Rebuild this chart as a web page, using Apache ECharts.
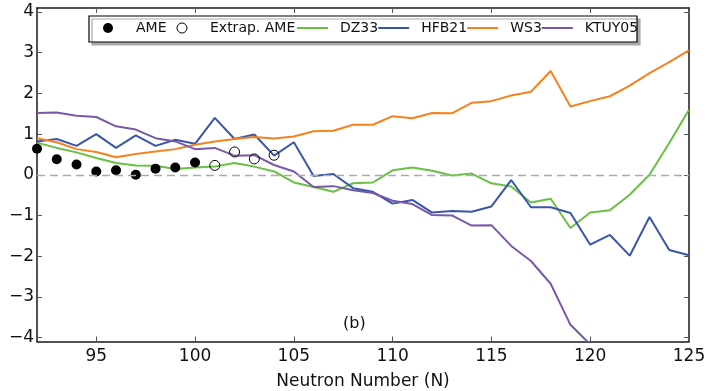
<!DOCTYPE html>
<html><head><meta charset="utf-8">
<script src="https://cdn.jsdelivr.net/npm/echarts@6/dist/echarts.min.js"></script>
<style>html,body{margin:0;padding:0;background:#fff}#c{width:709px;height:391px}</style>
</head><body><div id="c"></div>
<script>
var neutronN = [92,93,94,95,96,97,98,99,100,101,102,103,104,105,106,107,108,109,110,111,112,113,114,115,116,117,118,119,120,121,122,123,124,125];
var ameN = [92,93,94,95,96,97,98,99,100];
var ame = [0.64,0.38,0.25,0.08,0.11,0.00,0.15,0.18,0.30];
var extrapN = [101,102,103,104];
var extrap = [0.23,0.56,0.39,0.48];
var dz33 = [0.79,0.66,0.55,0.41,0.29,0.23,0.22,0.14,0.18,0.20,0.29,0.20,0.08,-0.19,-0.30,-0.42,-0.21,-0.19,0.11,0.18,0.10,-0.02,0.03,-0.21,-0.29,-0.68,-0.59,-1.31,-0.93,-0.87,-0.49,0.00,0.78,1.60];
var hfb21 = [0.82,0.88,0.71,1.00,0.66,0.97,0.71,0.86,0.76,1.40,0.88,0.99,0.47,0.80,-0.03,0.02,-0.33,-0.42,-0.71,-0.62,-0.93,-0.89,-0.91,-0.78,-0.13,-0.80,-0.80,-0.94,-1.72,-1.48,-1.99,-1.04,-1.85,-1.98];
var ws3 = [0.90,0.80,0.63,0.56,0.43,0.51,0.57,0.63,0.74,0.82,0.88,0.93,0.89,0.94,1.07,1.08,1.23,1.23,1.44,1.39,1.52,1.51,1.77,1.81,1.95,2.04,2.55,1.68,1.81,1.93,2.19,2.50,2.77,3.06];
var ktuy05 = [1.52,1.53,1.45,1.42,1.19,1.11,0.90,0.82,0.63,0.66,0.47,0.48,0.24,0.08,-0.30,-0.28,-0.38,-0.45,-0.64,-0.72,-0.99,-1.00,-1.25,-1.24,-1.75,-2.12,-2.68,-3.69,-4.17];
var xTicks = [95,100,105,110,115,120,125];
var yTicks = [-4,-3,-2,-1,0,1,2,3,4];
var xLabel = 'Neutron Number (N)';
var panelLabel = '(b)';

function pairs(xs, ys){ var o=[]; for(var i=0;i<ys.length;i++) o.push([xs[i], ys[i]]); return o; }

var FONT = 'DejaVu Sans';
var AX = '#1a1a1a';
var chart = echarts.init(document.getElementById('c'), null, {renderer:'canvas'});
function xAxisDef(pos, show){
  return {type:'value', position:pos, min:92, max:125,
    axisLine:{show:true, onZero:false, lineStyle:{color:AX, width:1.5}},
    axisTick:{show:true, inside:true, length:5, customValues:xTicks, lineStyle:{color:'#555', width:1}},
    axisLabel:{show:show, customValues:xTicks, fontFamily:FONT, fontSize:17, color:'#111', margin:7},
    splitLine:{show:false},
    name: show ? xLabel : '', nameLocation:'middle', nameGap:32,
    nameTextStyle:{fontFamily:FONT, fontSize:17, color:'#111'}};
}
function yAxisDef(pos, show){
  return {type:'value', position:pos, min:-4.1, max:4.1,
    axisLine:{show:true, onZero:false, lineStyle:{color:AX, width:1.5}},
    axisTick:{show:true, inside:true, length:5, customValues:yTicks, lineStyle:{color:'#555', width:1}},
    axisLabel:{show:show, customValues:yTicks, fontFamily:FONT, fontSize:17, color:'#111', margin:3,
      formatter:function(v){ return String(v).replace('-', '\u2212'); }},
    splitLine:{show:false}};
}
function lineSeries(name, data, color){
  return {name:name, type:'line', data:pairs(neutronN, data), showSymbol:false, symbol:'none',
    lineStyle:{color:color, width:2}, itemStyle:{color:color}, clip:true, animation:false};
}
function padFmt(){ return function(n){ return '{s|}' + n; }; }
var option = {
  animation:false,
  grid:{left:37, right:20, top:8, bottom:49.5, containLabel:false, outerBoundsMode:'none'},
  xAxis:[xAxisDef('bottom', true), xAxisDef('top', false)],
  yAxis:[yAxisDef('left', true), yAxisDef('right', false)],
  legend:[{
    left:103, top:21, orient:'horizontal', itemWidth:10, itemHeight:10, itemGap:10, padding:0,
    formatter:padFmt(),
    textStyle:{fontFamily:FONT, fontSize:14, color:'#111', rich:{s:{width:18}}},
    data:[
      {name:'AME', icon:'circle', itemStyle:{color:'#000', opacity:1}},
      {name:'Extrap. AME', icon:'circle', itemStyle:{color:'#fff', borderColor:'#000', borderWidth:1, opacity:1}}
    ]
  },{
    left:297, top:21, orient:'horizontal', itemWidth:31, itemHeight:2, itemGap:0, padding:0,
    formatter:padFmt(),
    textStyle:{fontFamily:FONT, fontSize:14, color:'#111', rich:{s:{width:7}}},
    data:[{name:'DZ33', icon:'rect'},{name:'HFB21', icon:'rect'},{name:'WS3', icon:'rect'},{name:'KTUY05', icon:'rect'}]
  }],
  graphic:[
    {type:'rect', z:3, shape:{x:89, y:16, width:548, height:26},
     style:{fill:'#fff', stroke:'#000', lineWidth:1.2, shadowColor:'#aaaaaa', shadowOffsetX:3, shadowOffsetY:3, shadowBlur:0}},
    {type:'text', left:343, top:316, style:{text:panelLabel, font:'16px "DejaVu Sans"', fill:'#111'}}
  ],
  series:[
    {name:'AME', type:'scatter', data:pairs(ameN, ame), symbol:'circle', symbolSize:10,
     itemStyle:{color:'#000', opacity:1}, z:3},
    {name:'Extrap. AME', type:'scatter', data:pairs(extrapN, extrap), symbol:'circle', symbolSize:10,
     itemStyle:{color:'rgba(0,0,0,0)', borderColor:'#000', borderWidth:1, opacity:1}, z:3},
    Object.assign(lineSeries('DZ33', dz33, '#6abf45'), {
      markLine:{silent:true, symbol:'none', label:{show:false},
        lineStyle:{color:'#aaaaaa', type:[8,5], width:1.3}, data:[{yAxis:0}]}}),
    lineSeries('HFB21', hfb21, '#3a56a8'),
    lineSeries('WS3', ws3, '#f5821f'),
    lineSeries('KTUY05', ktuy05, '#7a58a8')
  ]
};
chart.setOption(option);
</script></body></html>
